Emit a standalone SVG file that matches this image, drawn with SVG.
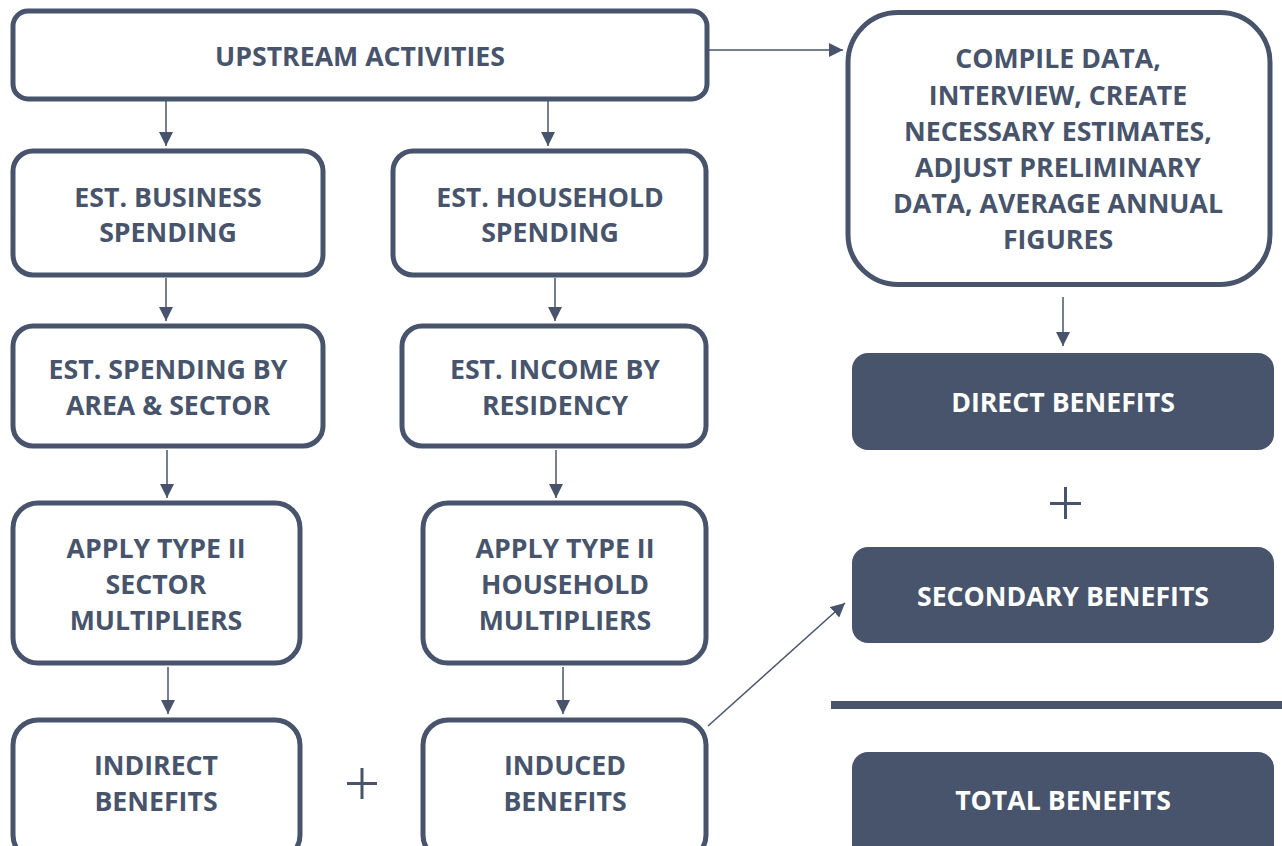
<svg xmlns="http://www.w3.org/2000/svg" width="1282" height="846" viewBox="0 0 1282 846">
<style>
.box{fill:#fff;stroke:#47546b;stroke-width:5}
.fill{fill:#47546b}
.t{font-family:"Open Sans","Liberation Sans",sans-serif;font-weight:700;font-size:26.7px;fill:#47546b;text-anchor:middle}
.w{fill:#fff}
.c{stroke:#47546b;stroke-width:1.5;fill:none}
</style>
<defs>
<marker id="ah" viewBox="0 0 10 10" refX="10" refY="5" markerWidth="14" markerHeight="14" markerUnits="userSpaceOnUse" orient="auto">
<path d="M0,0 L10,5 L0,10 Z" fill="#47546b"/>
</marker>
</defs>
<g id="connectors">
<line class="c" x1="166" y1="100" x2="166" y2="146" marker-end="url(#ah)"/>
<line class="c" x1="548" y1="100" x2="548" y2="146" marker-end="url(#ah)"/>
<line class="c" x1="166" y1="278" x2="166" y2="321" marker-end="url(#ah)"/>
<line class="c" x1="555" y1="278" x2="555" y2="321" marker-end="url(#ah)"/>
<line class="c" x1="167" y1="450" x2="167" y2="498" marker-end="url(#ah)"/>
<line class="c" x1="556" y1="450" x2="556" y2="498" marker-end="url(#ah)"/>
<line class="c" x1="168" y1="667" x2="168" y2="714" marker-end="url(#ah)"/>
<line class="c" x1="563" y1="667" x2="563" y2="714" marker-end="url(#ah)"/>
<line class="c" x1="709" y1="50" x2="843" y2="50" marker-end="url(#ah)"/>
<line class="c" x1="1063" y1="297" x2="1063" y2="346" marker-end="url(#ah)"/>
<line class="c" x1="708" y1="726" x2="845" y2="603" marker-end="url(#ah)"/>
</g>
<g id="upstream"><rect class="box" x="13" y="11" width="694" height="88" rx="15"/><text class="t" x="360" y="66">UPSTREAM ACTIVITIES</text></g>
<g id="bus-spend"><rect class="box" x="13" y="151" width="310" height="124" rx="20"/><text class="t" x="168" y="207">EST. BUSINESS</text><text class="t" x="168" y="242">SPENDING</text></g>
<g id="hh-spend"><rect class="box" x="393" y="151" width="313" height="124" rx="20"/><text class="t" x="550" y="207">EST. HOUSEHOLD</text><text class="t" x="550" y="242">SPENDING</text></g>
<g id="spend-area"><rect class="box" x="13" y="326" width="310" height="120" rx="20"/><text class="t" x="168" y="379">EST. SPENDING BY</text><text class="t" x="168" y="415">AREA &amp; SECTOR</text></g>
<g id="income-res"><rect class="box" x="402" y="326" width="304" height="120" rx="20"/><text class="t" x="555" y="379">EST. INCOME BY</text><text class="t" x="555" y="415">RESIDENCY</text></g>
<g id="apply-sector"><rect class="box" x="13" y="503" width="287" height="160" rx="25"/><text class="t" x="156" y="558">APPLY TYPE II</text><text class="t" x="156" y="594">SECTOR</text><text class="t" x="156" y="630">MULTIPLIERS</text></g>
<g id="apply-hh"><rect class="box" x="423" y="503" width="283" height="160" rx="25"/><text class="t" x="565" y="558">APPLY TYPE II</text><text class="t" x="565" y="594">HOUSEHOLD</text><text class="t" x="565" y="630">MULTIPLIERS</text></g>
<g id="indirect"><rect class="box" x="13" y="720" width="287" height="140" rx="25"/><text class="t" x="156" y="775">INDIRECT</text><text class="t" x="156" y="811">BENEFITS</text></g>
<g id="plus1"><rect class="fill" x="347" y="782" width="30" height="3"/><rect class="fill" x="360.5" y="768" width="3" height="31"/></g>
<g id="induced"><rect class="box" x="423" y="720" width="283" height="140" rx="25"/><text class="t" x="565" y="775">INDUCED</text><text class="t" x="565" y="811">BENEFITS</text></g>
<g id="compile"><rect class="box" x="848" y="12.5" width="422" height="272" rx="50"/><text class="t" x="1058" y="68">COMPILE DATA,</text><text class="t" x="1058" y="105">INTERVIEW, CREATE</text><text class="t" x="1058" y="141">NECESSARY ESTIMATES,</text><text class="t" x="1058" y="177">ADJUST PRELIMINARY</text><text class="t" x="1058" y="213">DATA, AVERAGE ANNUAL</text><text class="t" x="1058" y="249">FIGURES</text></g>
<g id="direct"><rect class="fill" x="852" y="353" width="422" height="97" rx="16"/><text class="t w" x="1063" y="412">DIRECT BENEFITS</text></g>
<g id="plus2"><rect class="fill" x="1050" y="502" width="31" height="3"/><rect class="fill" x="1064" y="487" width="3" height="32"/></g>
<g id="secondary"><rect class="fill" x="852" y="547" width="422" height="96" rx="16"/><text class="t w" x="1063" y="606">SECONDARY BENEFITS</text></g>
<g id="bar"><rect class="fill" x="831" y="701" width="451" height="8"/></g>
<g id="total"><rect class="fill" x="852" y="752" width="422" height="110" rx="16"/><text class="t w" x="1063" y="810">TOTAL BENEFITS</text></g>
</svg>
